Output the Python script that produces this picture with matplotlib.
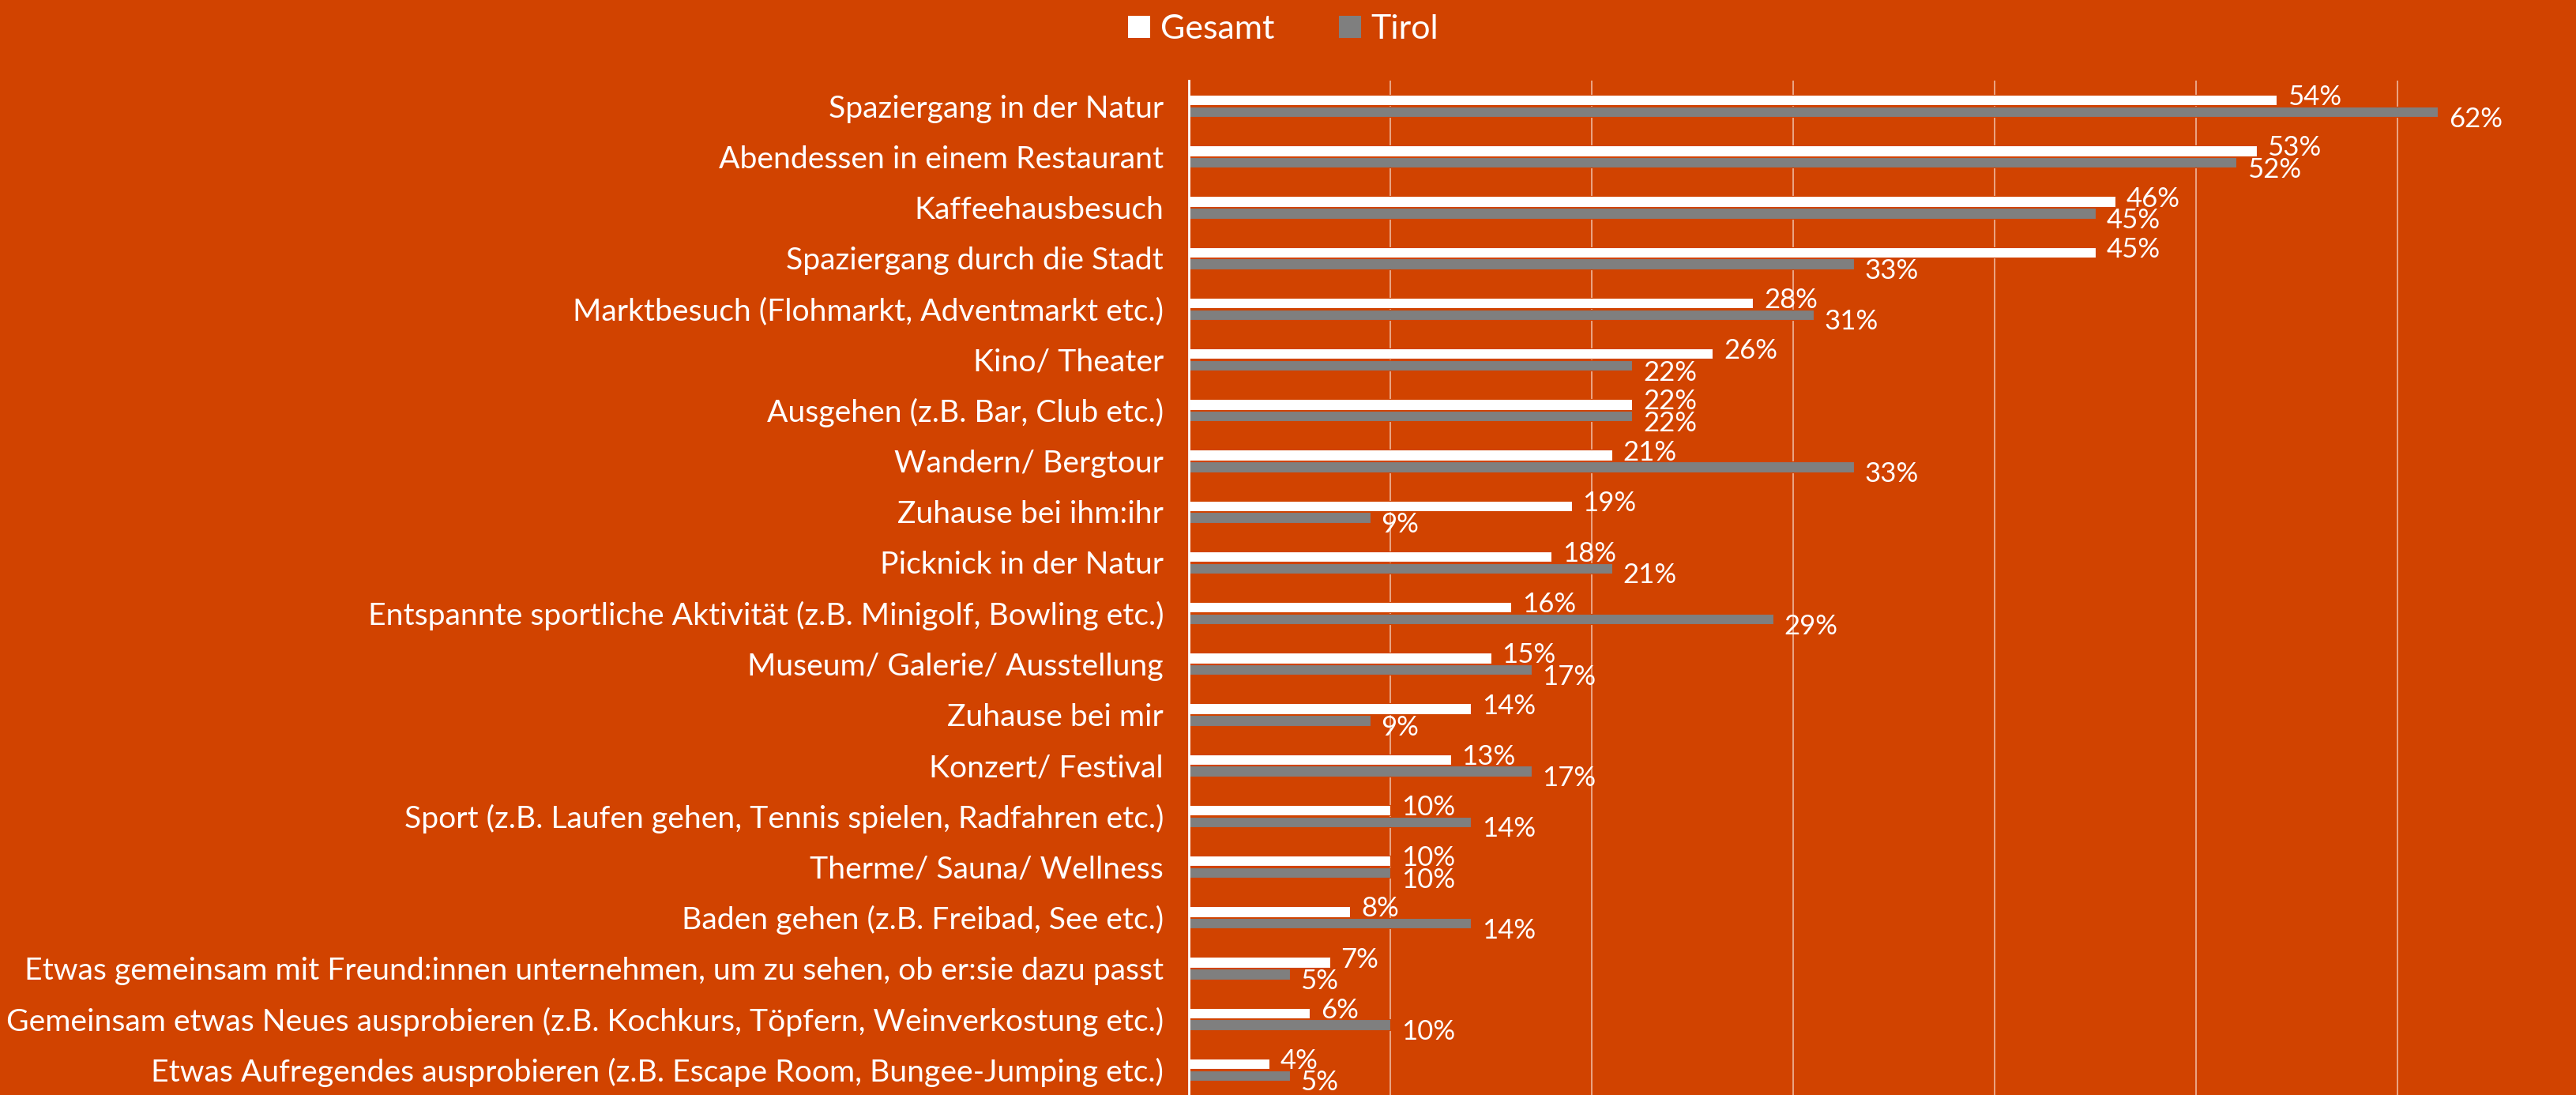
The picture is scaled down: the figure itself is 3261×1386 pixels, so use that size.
import numpy as np
import matplotlib.pyplot as plt
from matplotlib.patches import Patch

# Daten
kategorien = [
    'Spaziergang in der Natur',
    'Abendessen in einem Restaurant',
    'Kaffeehausbesuch',
    'Spaziergang durch die Stadt',
    'Marktbesuch (Flohmarkt, Adventmarkt etc.)',
    'Kino/ Theater',
    'Ausgehen (z.B. Bar, Club etc.)',
    'Wandern/ Bergtour',
    'Zuhause bei ihm:ihr',
    'Picknick in der Natur',
    'Entspannte sportliche Aktivität (z.B. Minigolf, Bowling etc.)',
    'Museum/ Galerie/ Ausstellung',
    'Zuhause bei mir',
    'Konzert/ Festival',
    'Sport (z.B. Laufen gehen, Tennis spielen, Radfahren etc.)',
    'Therme/ Sauna/ Wellness',
    'Baden gehen (z.B. Freibad, See etc.)',
    'Etwas gemeinsam mit Freund:innen unternehmen, um zu sehen, ob er:sie dazu passt',
    'Gemeinsam etwas Neues ausprobieren (z.B. Kochkurs, Töpfern, Weinverkostung etc.)',
    'Etwas Aufregendes ausprobieren (z.B. Escape Room, Bungee-Jumping etc.)',
]
gesamt = [54, 53, 46, 45, 28, 26, 22, 21, 19, 18, 16, 15, 14, 13, 10, 10, 8, 7, 6, 4]
tirol = [62, 52, 45, 33, 31, 22, 22, 33, 9, 21, 29, 17, 9, 17, 14, 10, 14, 5, 10, 5]

bg = '#D14300'
weiss = '#FFFFFF'
grau = '#7F7F7F'

plt.rcParams['font.family'] = ['Lato', 'DejaVu Sans']

fig = plt.figure(figsize=(32.62, 13.86), dpi=100, facecolor=bg)
ax = fig.add_axes([1505 / 3262, 0, 1 - 1505 / 3262, 1 - 102 / 1386])
ax.set_facecolor(bg)

y = np.arange(len(kategorien))
h = 0.21
ax.barh(y - h / 2 - 0.01, gesamt, height=h, color=weiss, edgecolor=bg, linewidth=0.8, zorder=3)
ax.barh(y + h / 2 + 0.01, tirol, height=h, color=grau, edgecolor=bg, linewidth=0.8, zorder=3)

# Wertebeschriftungen
for i in range(len(kategorien)):
    ax.annotate(f'{gesamt[i]}%', (gesamt[i], y[i] - h / 2), xytext=(10, 3),
                textcoords='offset points', va='center', ha='left',
                color=weiss, fontsize=25)
    ax.annotate(f'{tirol[i]}%', (tirol[i], y[i] + h / 2), xytext=(10, -7),
                textcoords='offset points', va='center', ha='left',
                color=weiss, fontsize=25)

ax.set_xlim(0, 68.9)
ax.set_ylim(len(kategorien) - 0.5, -0.5)
ax.set_xticks(np.arange(10, 70, 10))
ax.set_xticklabels([])
ax.grid(axis='x', color='#ECAE90', linewidth=1.3, zorder=0)
ax.set_axisbelow(True)
ax.set_yticks(y)
ax.set_yticklabels(kategorien, color=weiss, fontsize=28.2)
ax.tick_params(axis='both', length=0, pad=23)
for s in ['top', 'right', 'bottom']:
    ax.spines[s].set_visible(False)
ax.spines['left'].set_color(weiss)
ax.spines['left'].set_linewidth(2)
ax.spines['left'].set_zorder(4)

handles = [Patch(facecolor=weiss, label='Gesamt'), Patch(facecolor=grau, label='Tirol')]
fig.legend(handles=handles, loc='center', bbox_to_anchor=(0.498, 1 - 37 / 1386), ncol=2,
           frameon=False, fontsize=31, labelcolor=weiss, handlelength=0.65, handleheight=0.65,
           handletextpad=0.3, columnspacing=1.9)

fig.savefig('out.png', dpi=100, facecolor=bg)
